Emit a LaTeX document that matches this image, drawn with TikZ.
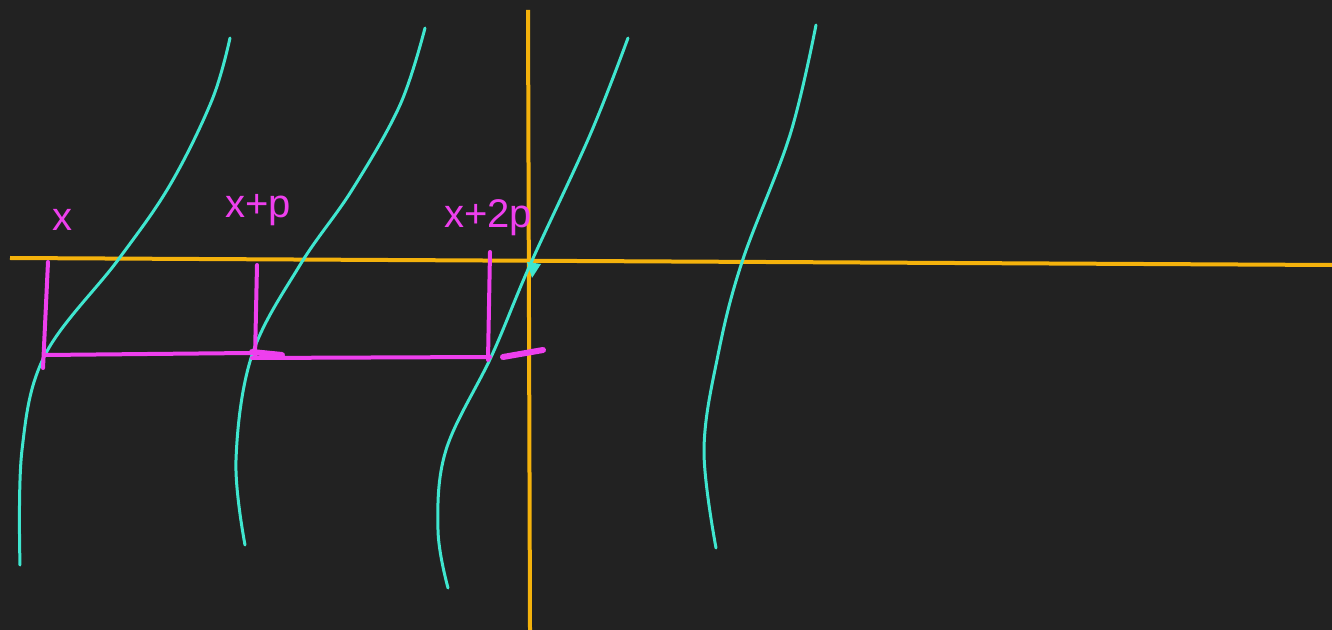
\documentclass[tikz,border=0pt]{standalone}
\usepackage{fontspec}
\setmainfont{Liberation Sans}
\definecolor{board}{HTML}{222222}
\definecolor{curvecol}{HTML}{3FE6CF}
\definecolor{axiscol}{HTML}{F4B20C}
\definecolor{markcol}{HTML}{EE3FEE}
\tikzset{
  branch/.style={curvecol,line width=1.5pt,line cap=round},
  axis/.style={axiscol,line width=2pt},
  mark line/.style={markcol,line width=2pt,line cap=round},
  point label/.style={markcol,font=\fontsize{20}{20}\selectfont}
}
\begin{document}
\begin{tikzpicture}[x=0.5pt,y=-0.5pt]
        \fill[board] (0,0) rectangle (1332,630);
        \useasboundingbox (0,0) rectangle (1332,630);
        \draw[axis] (10,258)--(1332,265);
        \draw[axis] (528,10)--(530,630);
        \draw[branch] plot[smooth,tension=0.6] coordinates {(20,565) (22,450) (45,355) (118,260) (170,185) (212,100) (230,38)};
        \draw[branch] plot[smooth,tension=0.6] coordinates {(245,545) (236,460) (252,355) (300,265) (352,190) (400,105) (425,28)};
        \draw[branch] plot[smooth,tension=0.6] coordinates {(448,588) (438,530) (446,450) (492,355) (530,265) (590,135) (628,38)};
        \draw[branch] plot[smooth,tension=0.6] coordinates {(716,548) (704,450) (718,355) (742,262) (790,135) (816,25)};
        \fill[curvecol] (527,262)--(541,264)--(532,278)--cycle;
        \draw[mark line] (48,262)--(43,368);
        \draw[mark line] (45,355)--(250,353);
        \draw[mark line] (257,265)--(255,358);
        \draw[mark line] (252,358)--(490,357);
        \draw[mark line] (490,252)--(488,360);
        \draw[mark line,line width=3pt] (252,352)--(282,355);
        \draw[mark line,line width=3pt] (503,357)--(543,350);
        \node[point label] (px) at (62,220) {x};
        \node[point label] (pxp) at (258,210) {x+p};
        \node[point label] (pxtwop) at (488,218) {x+2p};
\end{tikzpicture}
\end{document}
